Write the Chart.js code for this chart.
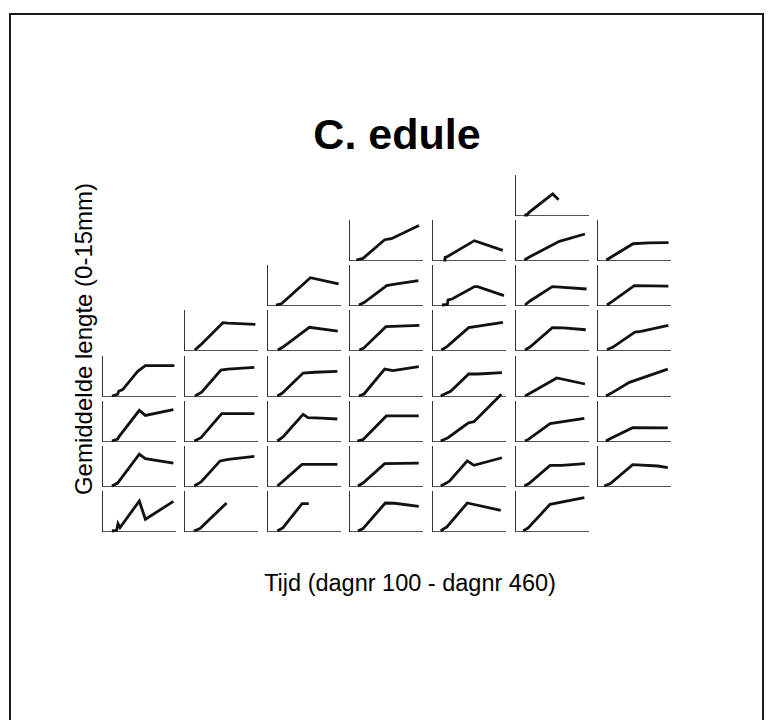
<!DOCTYPE html>
<html>
<head>
<meta charset="utf-8">
<title>C. edule</title>
<script src="https://cdn.jsdelivr.net/npm/chart.js@4.4.1/dist/chart.umd.min.js"></script>
<style>
  body { margin: 0; background: #fff; font-family: "Liberation Sans", Arial, sans-serif; color: #000; }
  #kader { position: absolute; left: 9px; top: 13px; width: 751px; height: 800px; border: 2px solid #1a1a1a; border-bottom: none; }
  .tekst { position: absolute; white-space: nowrap; line-height: 1; transform: translate(-50%, -50%); }
  #titel { left: 397px; top: 134px; font-size: 43px; font-weight: bold; }
  #xlabel { left: 410px; top: 584px; font-size: 23.5px; }
  #ylabel { left: 84px; top: 339px; font-size: 24px; transform: translate(-50%, -50%) rotate(-90deg); }
  canvas.paneel { position: absolute; }
</style>
</head>
<body>
<div id="kader"></div>
<div class="tekst" id="titel">C. edule</div>
<div class="tekst" id="ylabel">Gemiddelde lengte (0-15mm)</div>
<div class="tekst" id="xlabel">Tijd (dagnr 100 - dagnr 460)</div>

<script>
// gemiddelde lengte (mm) per dagnummer, per station; rijen van boven naar onder
const rij1 = [
  [[146,0],[159,0],[171,1.1],[286,7.9],[315,5.75]]
];
const rij2 = [
  [[136,0],[169,0.6],[276,7.6],[309,8.0],[445,12.9]],
  [[156,0],[164,0],[165,1.0],[177,1.3],[309,7.25],[449,3.6]],
  [[146,0],[171,1.1],[319,7.0],[445,9.75]],
  [[146,0],[278,6.1],[355,6.4],[453,6.5]]
];
const rij3 = [
  [[144,0],[164,0.3],[174,0.6],[314,10.25],[453,7.9]],
  [[149,0],[176,1.0],[286,7.25],[319,7.75],[442,9.1]],
  [[149,0],[176,0.2],[179,1.9],[199,2.25],[310,6.9],[325,6.9],[455,3.5]],
  [[149,0],[174,1.5],[284,6.9],[322,6.7],[453,6.0]],
  [[149,0],[174,1.25],[284,7.25],[452,7.1]]
];
const rij4 = [
  [[153,0],[182,1.9],[292,10.25],[317,10.1],[452,9.6]],
  [[153,0],[177,1.0],[309,8.5],[449,7.1]],
  [[151,0],[171,0.6],[282,8.75],[447,9.25]],
  [[146,0],[174,1.25],[281,8.4],[450,10.4]],
  [[149,0],[174,1.1],[284,8.4],[338,8.3],[449,7.6]],
  [[149,0.2],[177,1.0],[287,6.75],[317,7.0],[452,9.25]]
];
const rij5 = [
  [[149,0],[177,0.6],[182,1.75],[202,2.4],[276,9.25],[314,11.4],[457,11.4]],
  [[154,0],[187,1.4],[282,9.75],[317,10.1],[447,10.75]],
  [[151,0],[176,1.1],[278,8.6],[335,8.9],[447,9.25]],
  [[149,0],[174,0.75],[276,10.1],[317,9.5],[444,11.0]],
  [[143,0],[171,1.0],[192,1.75],[281,8.25],[327,8.25],[445,8.75]],
  [[149,0],[174,1.0],[306,6.75],[445,4.5]],
  [[144,0],[169,1.0],[260,5.1],[449,10.1]]
];
const rij6 = [
  [[149,0],[177,0.75],[185,1.75],[284,11.5],[314,9.6],[452,11.75]],
  [[151,0],[184,1.25],[286,10.25],[447,10.25]],
  [[151,0],[179,1.5],[278,10.0],[302,8.75],[368,8.6],[447,8.25]],
  [[141,0],[169,0.5],[284,9.4],[444,9.4]],
  [[143,0],[179,1.25],[278,6.75],[307,7.25],[442,17.5]],
  [[149,0],[166,0.6],[273,6.5],[442,8.5]],
  [[144,0],[169,1.0],[276,5.0],[449,4.9]]
];
const rij7 = [
  [[149,0],[177,1.1],[284,11.9],[314,10.25],[452,8.6]],
  [[151,0],[184,1.5],[278,9.4],[319,10.0],[447,11.1]],
  [[151,0],[171,1.25],[273,8.1],[447,8.1]],
  [[144,0],[169,1.1],[276,8.4],[444,8.6]],
  [[143,0],[171,1.1],[187,1.9],[274,9.4],[307,7.75],[445,10.6]],
  [[146,0],[169,0.9],[273,7.75],[330,7.75],[445,8.4]],
  [[136,0],[166,0.9],[276,8.0],[400,7.5],[449,6.9]]
];
const rij8 = [
  [[149,0],[172,0.25],[179,2.75],[189,1.25],[284,11.25],[314,4.4],[452,11.1]],
  [[149,0],[179,0.9],[310,10.5]],
  [[151,0],[179,1.25],[273,10.25],[306,10.25]],
  [[144,0],[169,0.9],[279,10.5],[325,10.4],[444,9.25]],
  [[143,0],[166,1.25],[172,1.4],[274,10.5],[439,7.75]],
  [[141,0],[166,1.25],[273,10.0],[442,12.5]]
];

const rijen = [rij1, rij2, rij3, rij4, rij5, rij6, rij7, rij8];
const eersteKolom = [5, 3, 2, 1, 0, 0, 0, 0];
const dagMin = 100, dagMax = 460;
const lengteMin = 0, lengteMax = 15;

// raster van de kleine grafiekjes
const links0 = 101.5, kolomStap = 82.6;
const onder0 = 215.3, rijStap = 45.05;
const breed = 73, hoog = 40;
const pad = { left: 3, right: 6, top: 10, bottom: 3 };

function maakPaneel(punten, kol, rij) {
  const cv = document.createElement("canvas");
  cv.className = "paneel";
  cv.width = breed + pad.left + pad.right;
  cv.height = hoog + pad.top + pad.bottom;
  cv.style.left = Math.round(links0 + kol * kolomStap - pad.left) + "px";
  cv.style.top = Math.round(onder0 + rij * rijStap - hoog - pad.top) + "px";
  document.body.appendChild(cv);

  new Chart(cv.getContext("2d"), {
    type: "line",
    data: {
      datasets: [{
        data: punten.map(p => ({ x: p[0], y: p[1] })),
        borderColor: "#111",
        borderWidth: 2.8,
        pointRadius: 0,
        tension: 0,
        clip: false
      }]
    },
    options: {
      responsive: false,
      animation: false,
      layout: { padding: pad },
      plugins: { legend: { display: false }, tooltip: { enabled: false } },
      scales: {
        x: {
          type: "linear", min: dagMin, max: dagMax,
          grid: { display: false, drawTicks: false },
          ticks: { display: false },
          border: { display: true, color: "#555", width: 1 }
        },
        y: {
          min: lengteMin, max: lengteMax,
          grid: { display: false, drawTicks: false },
          ticks: { display: false },
          border: { display: true, color: "#333", width: 1 }
        }
      }
    }
  });
}

rijen.forEach((rij, r) => {
  rij.forEach((punten, i) => maakPaneel(punten, eersteKolom[r] + i, r));
});
</script>
</body>
</html>
